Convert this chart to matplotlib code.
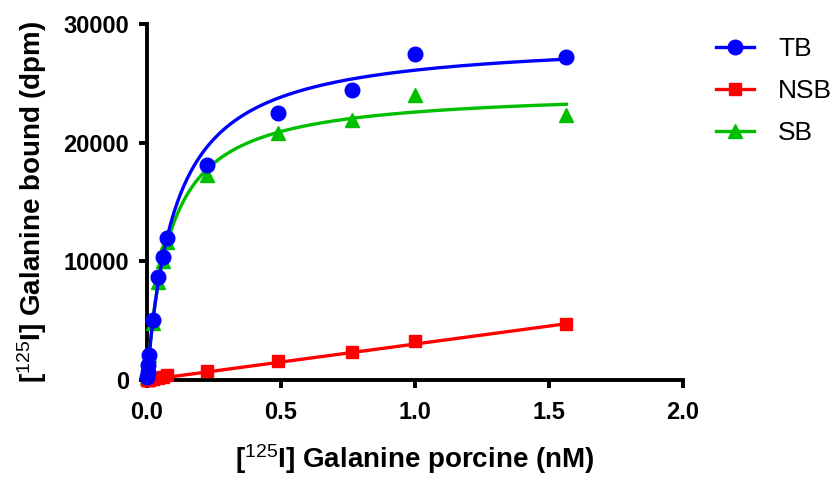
import numpy as np
import matplotlib
matplotlib.use("Agg")
import matplotlib.pyplot as plt

plt.rcParams['font.family'] = ['Liberation Sans', 'DejaVu Sans']
plt.rcParams['mathtext.fontset'] = 'custom'
plt.rcParams['mathtext.rm'] = 'Liberation Sans'
plt.rcParams['mathtext.it'] = 'Liberation Sans'

# concentrations (nM)
conc = np.array([0.001, 0.002, 0.004, 0.006, 0.024, 0.04, 0.061, 0.076,
                 0.223, 0.49, 0.764, 1.0, 1.565])
tb = np.array([250, 700, 1300, 2100, 5050, 8650, 10400, 12000,
               18100, 22500, 24400, 27500, 27200])
nsb = np.array([5, 10, 15, 20, 70, 130, 250, 450,
                750, 1600, 2360, 3300, 4750])
sb = np.array([245, 690, 1285, 2080, 4800, 8300, 10000, 11600,
               17300, 20850, 21950, 24000, 22300])

# fitted curve parameters (one site binding, as drawn in the original)
tb_bmax, tb_kd = 28850, 0.105
sb_bmax, sb_kd = 24500, 0.085
nsb_slope = 3030

labels = ['TB', 'NSB', 'SB']
colors = {'TB': '#0000ff', 'NSB': '#ff0000', 'SB': '#00bf00'}
markers = {'TB': 'o', 'NSB': 's', 'SB': '^'}
msizes = {'TB': 10.5, 'NSB': 8.5, 'SB': 10.5}
x_ticks = [0.0, 0.5, 1.0, 1.5, 2.0]
y_ticks = [0, 10000, 20000, 30000]

xs = np.linspace(0, conc.max(), 400)
tb_fit = tb_bmax * xs / (tb_kd + xs)
sb_fit = sb_bmax * xs / (sb_kd + xs)
nsb_fit = nsb_slope * xs

fig = plt.figure(figsize=(8.36, 4.78), dpi=100)
ax = fig.add_axes([147 / 836, 98 / 478, 536 / 836, 356 / 478])

ax.plot(xs, sb_fit, color=colors['SB'], lw=2.4, clip_on=False, zorder=3)
ax.plot(conc, sb, ls='none', marker='^', ms=msizes['SB'], color=colors['SB'],
        clip_on=False, zorder=3)
ax.plot(xs, nsb_fit, color=colors['NSB'], lw=2.4, clip_on=False, zorder=4)
ax.plot(conc, nsb, ls='none', marker='s', ms=msizes['NSB'], color=colors['NSB'],
        clip_on=False, zorder=4)
ax.plot(xs, tb_fit, color=colors['TB'], lw=2.4, clip_on=False, zorder=5)
ax.plot(conc, tb, ls='none', marker='o', ms=msizes['TB'], color=colors['TB'],
        clip_on=False, zorder=5)

ax.set_xlim(0, 2.0)
ax.set_ylim(0, 30000)
ax.set_xticks(x_ticks)
ax.set_xticklabels(['%.1f' % v for v in x_ticks])
ax.set_yticks(y_ticks)
ax.set_yticklabels([str(v) for v in y_ticks])
for s in ['top', 'right']:
    ax.spines[s].set_visible(False)
for s in ['left', 'bottom']:
    ax.spines[s].set_linewidth(2.8)
ax.tick_params(width=2.8, length=6, labelsize=17)
ax.tick_params(axis='x', pad=9)
ax.tick_params(axis='y', pad=7)
for t in ax.get_xticklabels() + ax.get_yticklabels():
    t.set_fontweight('bold')

ax.set_xlabel(r'[$^{125}$I] Galanine porcine (nM)', fontsize=20,
              fontweight='bold', labelpad=13)
ax.set_ylabel(r'[$^{125}$I] Galanine bound (dpm)', fontsize=20,
              fontweight='bold', labelpad=10)

handles = [plt.Line2D([], [], color=colors[k], marker=markers[k], lw=2.4,
                      ms=msizes[k]) for k in labels]
fig.legend(handles, labels, loc='upper left', bbox_to_anchor=(716 / 836, 1 - 37 / 478),
           frameon=False, fontsize=19, handlelength=1.45, handletextpad=0.9,
           labelspacing=0.68, borderpad=0, borderaxespad=0)

fig.savefig('out.png', dpi=100)
